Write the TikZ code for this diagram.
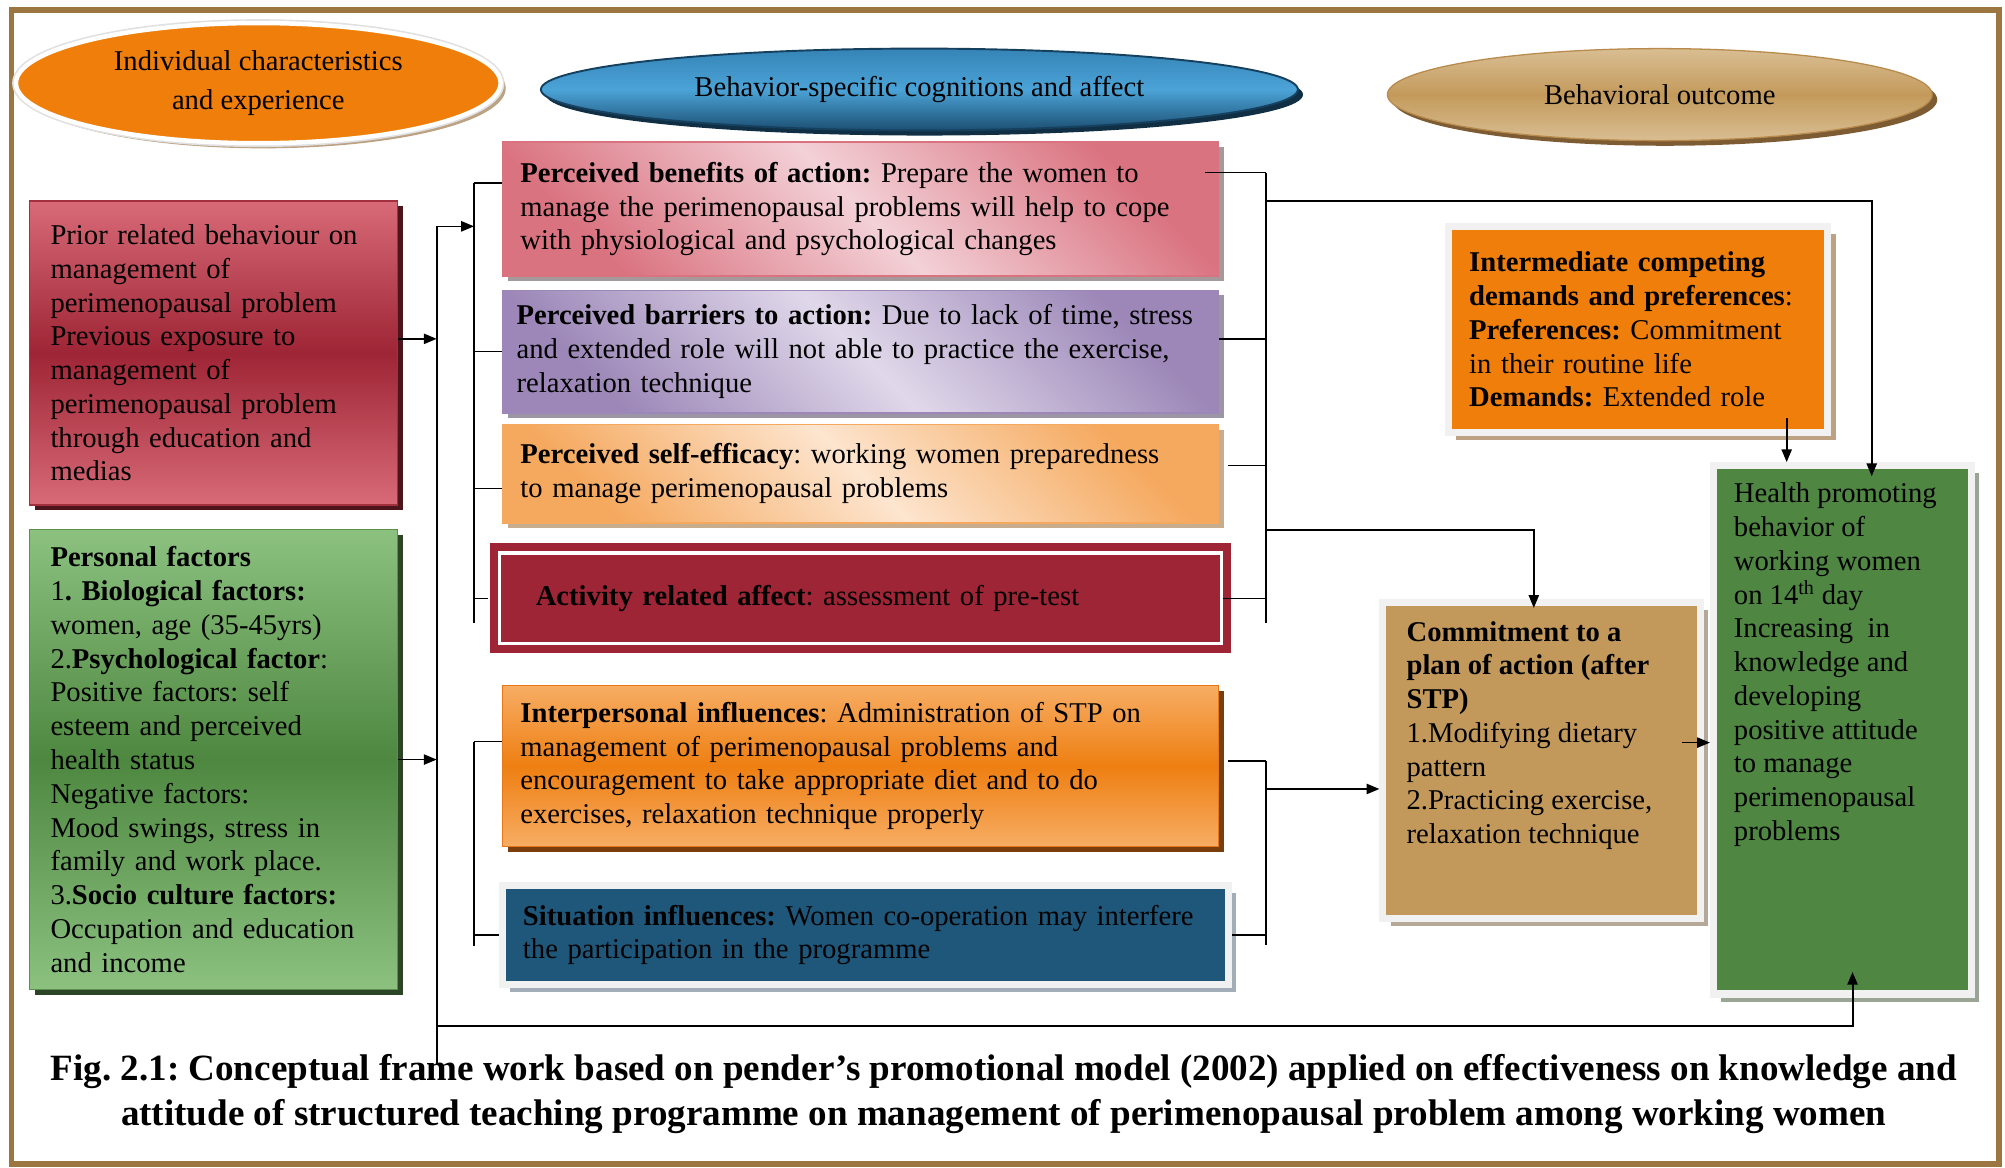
\documentclass[tikz,border=0pt]{standalone}
\usepackage{fontspec}
\setmainfont{Liberation Serif}
\usetikzlibrary{arrows.meta,positioning,calc,shapes.geometric,shadows}

\begin{document}
\frenchspacing\hyphenpenalty=10000
\begin{tikzpicture}[x=1pt,y=-1pt,>={Triangle[length=10pt,width=8pt]},
    every node/.style={font=\fontsize{22.4}{26.4}\selectfont, inner sep=0pt},
    conn/.style={line width=1.3pt, draw=black},
    card/.style={rectangle, align=left, inner xsep=#1},
    shd/.style 2 args={drop shadow={shadow xshift=#2, shadow yshift=-#2, fill=#1, opacity=1}},
    diag/.style 2 args={top color=#2, bottom color=#2, middle color=#1, shading angle=-45},
    vert/.style 2 args={top color=#1, bottom color=#1, middle color=#2},
    lgframe/.style={draw=frg, line width=5.5pt}]
  \definecolor{frameb}{HTML}{9B7640}\definecolor{orng}{HTML}{EF7F0A}\definecolor{tanS}{HTML}{BCA283}
  \definecolor{blueT}{HTML}{4BA3D7}\definecolor{blueE}{HTML}{3584B6}\definecolor{blueB}{HTML}{1C4F72}
  \definecolor{blueD}{HTML}{15405E}\definecolor{blueS}{HTML}{102F45}
  \definecolor{tanL}{HTML}{D9BE93}\definecolor{tanM}{HTML}{C39A5B}\definecolor{tanE}{HTML}{B88A4C}\definecolor{tanD}{HTML}{7D5C33}
  \definecolor{redL}{HTML}{D86A77}\definecolor{redM}{HTML}{9E2535}\definecolor{redE}{HTML}{A3303F}\definecolor{redS}{HTML}{4C151B}
  \definecolor{grnL}{HTML}{8CC180}\definecolor{grnM}{HTML}{4E8840}\definecolor{grnE}{HTML}{5C8F4E}\definecolor{grnS}{HTML}{2B4526}
  \definecolor{pinkL}{HTML}{F3D1D7}\definecolor{pinkD}{HTML}{DA7380}\definecolor{pinkS}{HTML}{A6999C}
  \definecolor{purL}{HTML}{E0D8EA}\definecolor{purD}{HTML}{9C87B8}\definecolor{purS}{HTML}{9B95A6}
  \definecolor{peaL}{HTML}{FDE5CF}\definecolor{peaD}{HTML}{F5A95F}\definecolor{peaS}{HTML}{C7AC8E}
  \definecolor{actR}{HTML}{9E2535}
  \definecolor{intL}{HTML}{F7AD64}\definecolor{intM}{HTML}{EE7F12}\definecolor{intE}{HTML}{E5791A}\definecolor{intS}{HTML}{7A3E0C}
  \definecolor{sitB}{HTML}{1F577B}\definecolor{sitS}{HTML}{A3ADB8}\definecolor{frg}{HTML}{F1F1F1}
  \definecolor{cmtF}{HTML}{C2995A}\definecolor{cmtS}{HTML}{B5A898}
  \definecolor{hgr}{HTML}{4E8642}\definecolor{hS}{HTML}{9AA595}
  \useasboundingbox (0,0) rectangle (1568,913);
  \draw[frameb, line width=4.5pt] (9,8) rectangle (1563,910);

  % headings
  \node[ellipse, minimum width=379pt, minimum height=94pt, shd={tanS}{4pt},
    preaction={draw=black!12, line width=6pt}, fill=orng, draw=white, line width=3.5pt,
    align=center, font=\fontsize{22.4}{30}\selectfont] (hIndiv) at (202,65)
    {Individual characteristics\\and experience};
  \node[ellipse, minimum width=592pt, minimum height=64pt, shd={blueS}{4pt},
    top color=blueE, bottom color=blueB, middle color=blueT, draw=blueD, line width=1.5pt] (hCog) at (719,70)
    {Behavior-specific cognitions and affect};
  \node[ellipse, minimum width=426pt, minimum height=72pt, shd={tanD}{4pt},
    vert={tanL}{tanM}, draw=tanE, line width=1pt] (hOut) at (1298,74) {Behavioral outcome};

  % individual characteristics
  \node[card=16.5pt, text width=255pt, minimum height=238pt, vert={redL}{redM}, draw=redE,
    line width=1.2pt, shd={redS}{4pt}] (prior) at (167,276)
    {Prior related behaviour on\\management of\\perimenopausal problem\\Previous exposure to\\
     management of\\perimenopausal problem\\through education and\\medias};
  \node[card=16.5pt, text width=255pt, minimum height=360pt, vert={grnL}{grnM}, draw=grnE,
    line width=1.2pt, shd={grnS}{4pt}] (pers) at (167,594)
    {\textbf{Personal factors}\\1\textbf{. Biological factors:}\\women, age (35-45yrs)\\
     2.\textbf{Psychological factor}:\\Positive factors: self\\esteem and perceived\\health status\\
     Negative factors:\\Mood swings, stress in\\family and work place.\\3.\textbf{Socio culture factors:}\\
     Occupation and education\\and income};

  % cognitions
  \node[card=14pt, text width=532pt, minimum height=105pt, diag={pinkL}{pinkD}, draw=pinkD,
    line width=1.2pt, shd={pinkS}{4pt}] (ben) at (673,163.5)
    {\textbf{Perceived benefits of action:} Prepare the women to\\
     manage the perimenopausal problems will help to cope\\with physiological and psychological changes};
  \node[card=11pt, text width=538pt, minimum height=96pt, diag={purL}{purD}, draw=purD,
    line width=1.2pt, shd={purS}{4pt}] (bar) at (673,275)
    {\textbf{Perceived barriers to action:} Due to lack of time, stress\\
     and extended role will not able to practice the exercise,\\relaxation technique};
  \node[card=14pt, text width=532pt, minimum height=77pt, diag={peaL}{peaD}, draw=peaD,
    line width=1.2pt, shd={peaS}{4pt}] (eff) at (673,370.5)
    {\textbf{Perceived self-efficacy}: working women preparedness\\to manage perimenopausal problems};
  \node[card=28.5pt, text width=508pt, minimum height=71pt, preaction={draw=actR, line width=15pt},
    fill=actR, draw=white, line width=2.5pt] (act) at (673,468)
    {\textbf{Activity related affect}: assessment of pre-test};
  \node[card=14pt, text width=532pt, minimum height=126pt, vert={intL}{intM}, draw=intE,
    line width=1.2pt, shd={intS}{4pt}] (int) at (673,599)
    {\textbf{Interpersonal influences}: Administration of STP on\\management of perimenopausal problems and\\
     encouragement to take appropriate diet and to do\\exercises, relaxation technique properly};
  \node[card=16pt, text width=535.5pt, minimum height=77.5pt, fill=sitB, lgframe, shd={sitS}{6pt}] (sit) at (676.75,731.25)
    {\textbf{Situation influences:} Women co-operation may interfere\\the participation in the programme};

  % outcome
  \node[card=16pt, text width=264.5pt, minimum height=161pt, fill=orng, lgframe, shd={tanS}{6pt}] (inter) at (1281.25,257.75)
    {\textbf{Intermediate competing}\\\textbf{demands and preferences}:\\\textbf{Preferences:} Commitment\\
     in their routine life\\\textbf{Demands:} Extended role};
  \node[card=18.5pt, inner ysep=14.6pt, fill=cmtF, lgframe, shd={cmtS}{6pt}] (comm) at (1205.5,594.75)
    {\parbox[c][218pt][t]{211pt}{\raggedright\textbf{Commitment to a}\\\textbf{plan of action (after}\\\textbf{STP)}\\
     1.Modifying dietary\\pattern\\2.Practicing exercise,\\relaxation technique}};
  \node[card=16pt, inner ysep=13.6pt, fill=hgr, lgframe, shd={hS}{6pt}] (health) at (1440.75,570.75)
    {\parbox[c][386pt][t]{169.5pt}{\raggedright Health promoting\\behavior of\\working women\\
     on 14\textsuperscript{th} day\\Increasing\ \ in\\knowledge and\\developing\\positive attitude\\
     to manage\\perimenopausal\\problems}};

  \node[font=\bfseries\fontsize{29}{35}\selectfont, align=center] (cap) at (785,855.5)
    {Fig. 2.1: Conceptual frame work based on pender’s promotional model (2002) applied on effectiveness on knowledge and\\
     attitude of structured teaching programme on management of perimenopausal problem among working women};

  % brackets and arrows
  \coordinate (busTop) at (341.5,177);
  \coordinate (busEnd) at (341.5,833);
  \coordinate (busBot) at (341.5,802);
  \coordinate (lbrA) at (370.7,143);
  \coordinate (lbrB) at (370.7,487);
  \coordinate (lbrC) at (370.7,580);
  \coordinate (lbrD) at (370.7,740);
  \coordinate (rbrA) at (990,135);
  \coordinate (rbrB) at (990,487);
  \coordinate (rbrC) at (990,595);
  \coordinate (rbrD) at (990,739);
  \coordinate (rbrE) at (990,157);
  \coordinate (rbrF) at (990,414.5);
  \coordinate (rbrG) at (990,617);
  \coordinate (iOut) at ($(inter.south)+(116,-14)$);

  \draw[conn] (busTop) -- (busEnd);
  \draw[conn,->] ($(prior.east)+(0,-11)$) -- ($(prior.east -| busTop)+(0,-11)$);
  \draw[conn,->] (pers.east) -- (pers.east -| busTop);
  \draw[conn,->] (busTop) -- (busTop -| lbrA);
  \draw[conn] (lbrA) -- (lbrB);
  \draw[conn] (lbrA) -- (lbrA -| ben.west);
  \draw[conn] (bar.west) -- (bar.west -| lbrA);
  \draw[conn] ($(eff.west)+(0,11.5)$) -- ($(eff.west -| lbrA)+(0,11.5)$);
  \draw[conn] ($(act.west)+(-8,0)$) -- (act.west -| lbrA);
  \draw[conn] (lbrC) -- (lbrD);
  \draw[conn] (lbrC) -- (lbrC -| int.west);
  \draw[conn] (sit.west) -- (sit.west -| lbrC);

  \draw[conn] (rbrA) -- (rbrB);
  \draw[conn] ($(rbrA -| ben.east)+(-11,0)$) -- (rbrA);
  \draw[conn] ($(bar.east)+(0,-10)$) -- ($(bar.east -| rbrA)+(0,-10)$);
  \draw[conn] ($(eff.east)+(7,-6.5)$) -- ($(eff.east -| rbrA)+(0,-6.5)$);
  \draw[conn] (act.east) -- (act.east -| rbrA);
  \draw[conn,->] (rbrE) -| ($(health.north)+(23,11)$);
  \draw[conn,->] (rbrF) -| ($(comm.north)+(-6,7)$);
  \draw[conn,->] (iOut) -- (iOut |- health.north);

  \draw[conn] (rbrC) -- (rbrD);
  \draw[conn] ($(int.east)+(7,-4)$) -- ($(int.east -| rbrC)+(0,-4)$);
  \draw[conn] (sit.east) -- (sit.east -| rbrC);
  \draw[conn,->] (rbrG) -- (rbrG -| comm.west);
  \draw[conn,->] ($(comm.east)+(-17,-14)$) -- ($(comm.east -| health.west)+(0,-14)$);
  \draw[conn,->, line width=1.6pt] (busBot) -| ($(health.south)+(8,-20)$);
\end{tikzpicture}
\end{document}
